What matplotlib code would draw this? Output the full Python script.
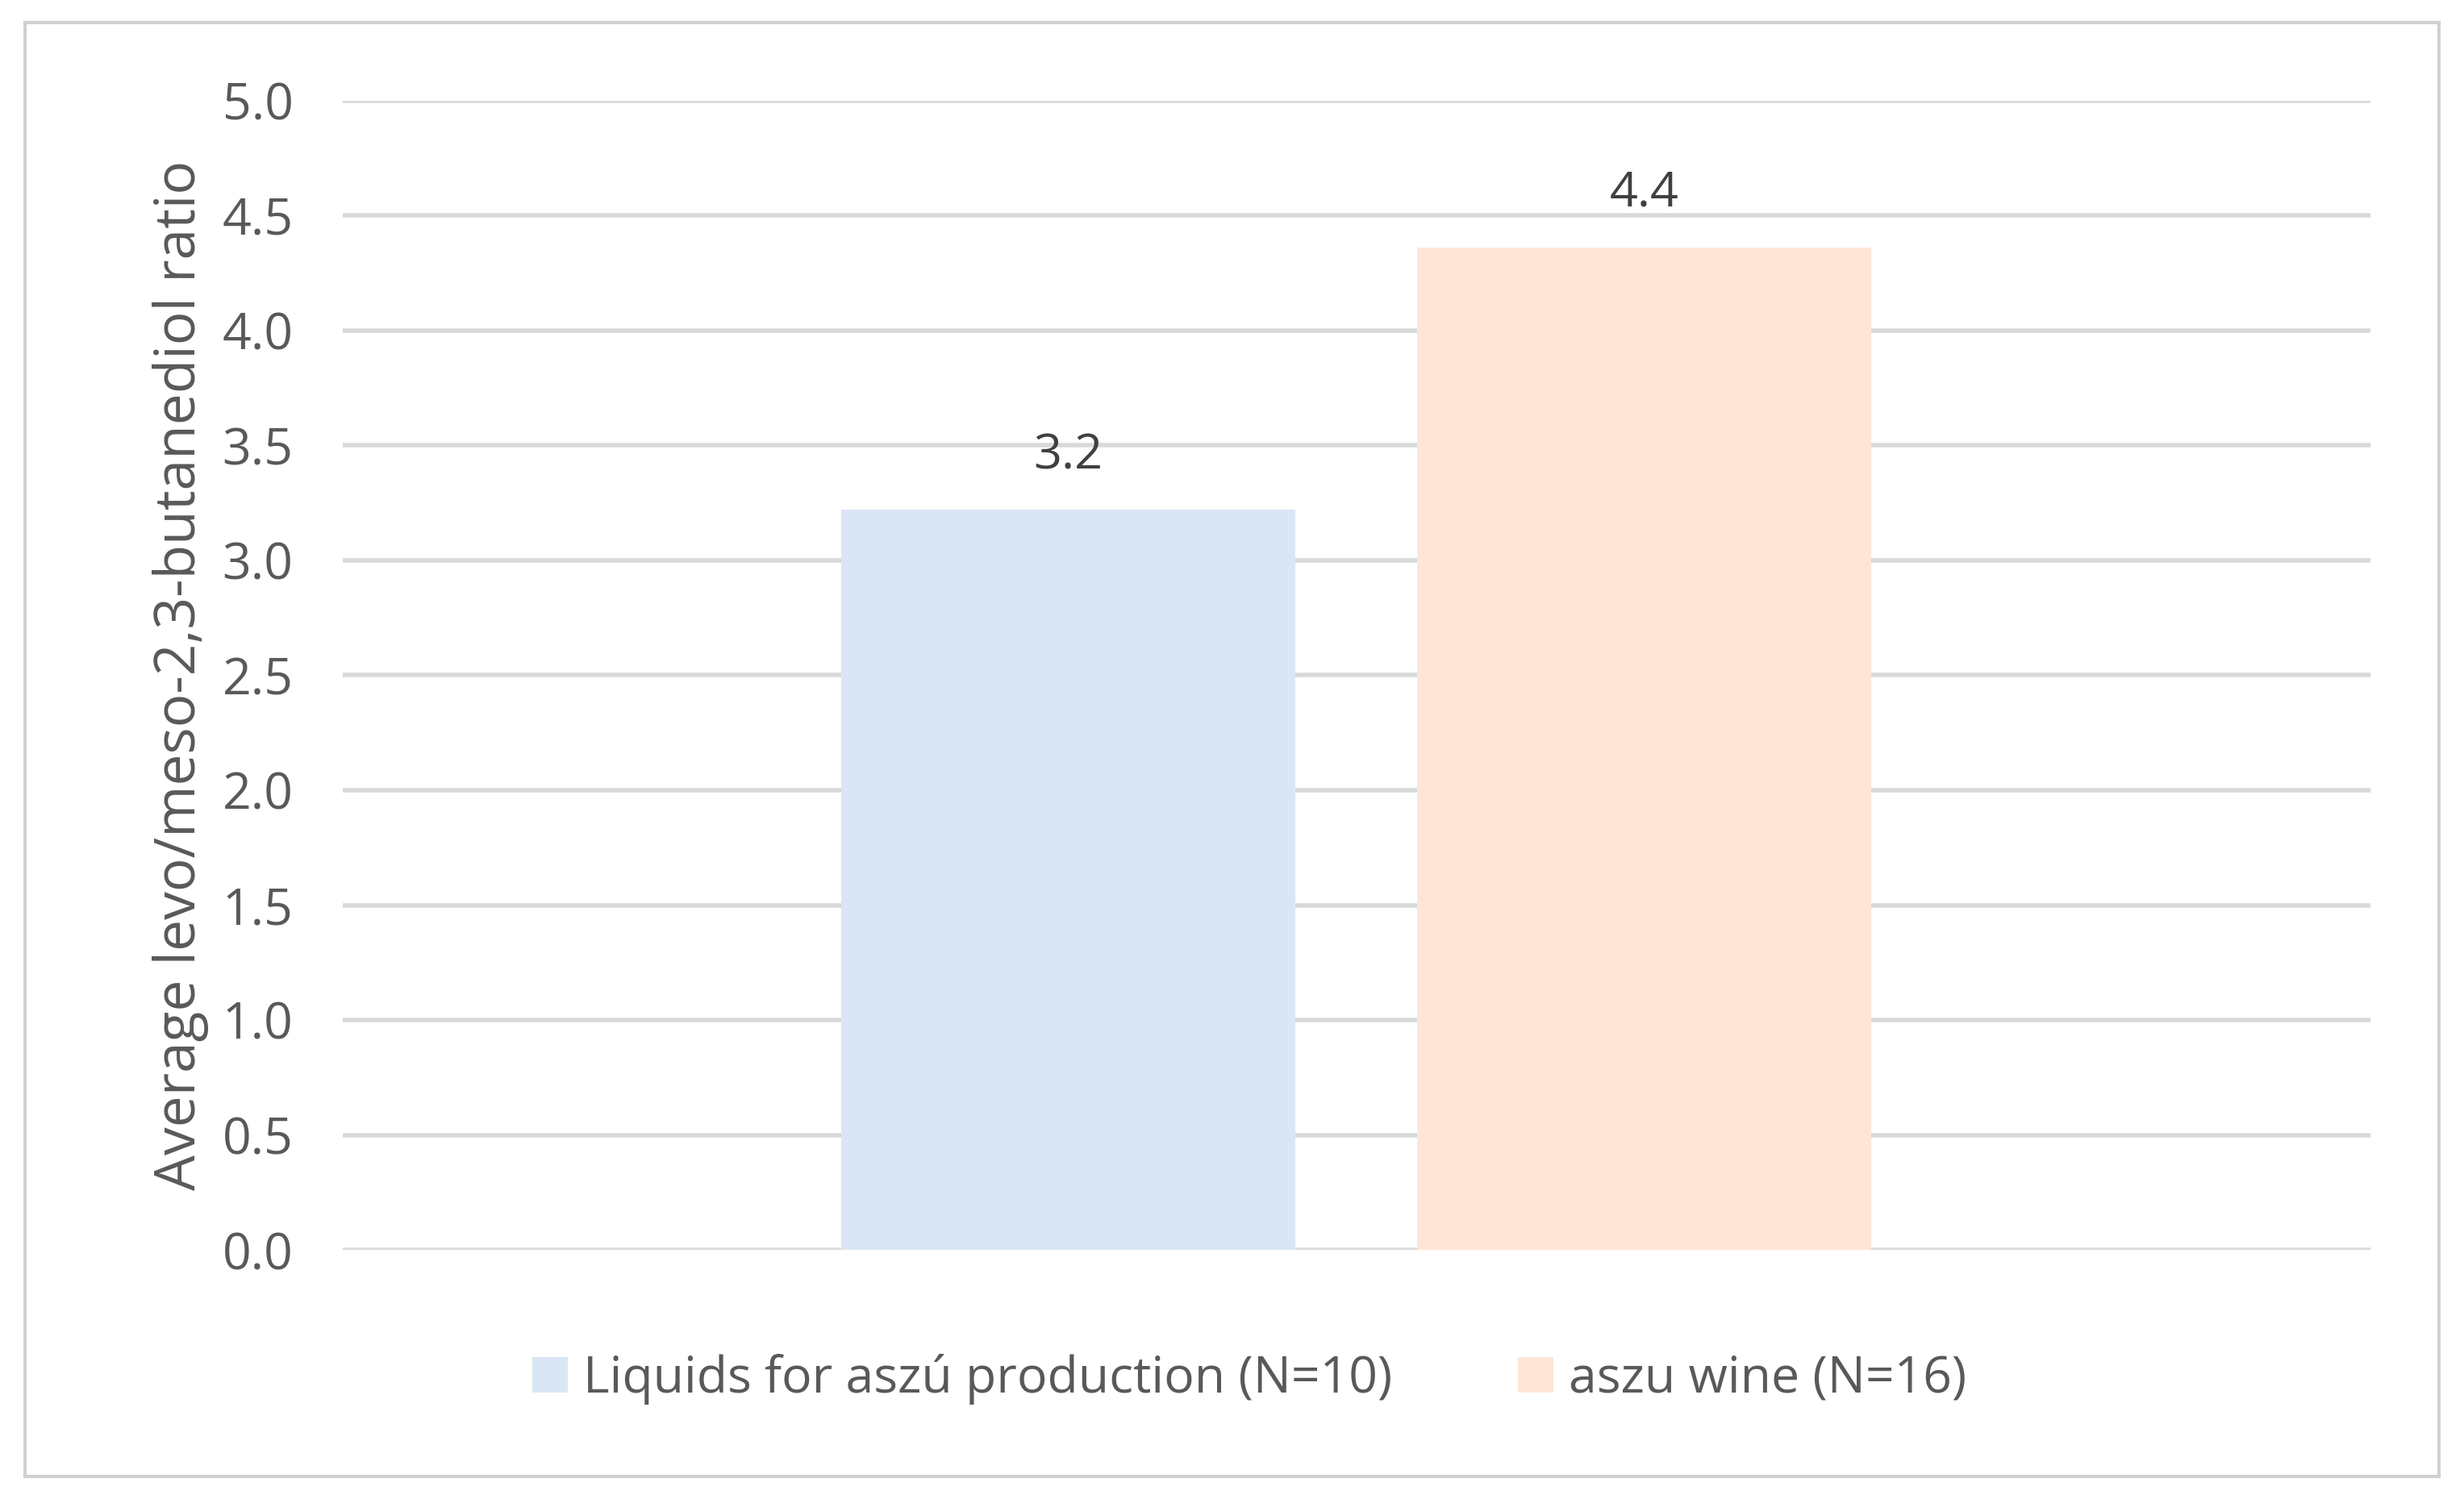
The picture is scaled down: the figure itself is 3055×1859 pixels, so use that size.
import matplotlib.pyplot as plt
from matplotlib.patches import Rectangle

series = ["Liquids for aszú production (N=10)", "aszu wine (N=16)"]
values = [3.22, 4.36]
labels = ["3.2", "4.4"]
colors = ["#DAE6F4", "#FEE6D6"]
yticks = [0.0, 0.5, 1.0, 1.5, 2.0, 2.5, 3.0, 3.5, 4.0, 4.5, 5.0]

plt.rcParams['font.family'] = ['Open Sans', 'DejaVu Sans']
fig = plt.figure(figsize=(15.275, 9.295), dpi=200)
fig.patches.append(Rectangle((0.01, 0.015), 0.98, 0.97, transform=fig.transFigure,
                             fill=False, edgecolor="#D0D0D0", linewidth=1.5))
ax = fig.add_axes([0.139, 0.166, 0.823, 0.767])

width = 0.224
offsets = [-0.142, 0.142]
for s, v, lab, c, off in zip(series, values, labels, colors, offsets):
    ax.bar(0.5 + off, v, width=width, color=c, label=s, zorder=2)
    ax.text(0.5 + off, v + 0.13, lab, ha="center", va="bottom",
            fontsize=22, color="#404040")

ax.set_xlim(0, 1)
ax.set_ylim(0, 5)
ax.set_yticks(yticks)
ax.set_yticklabels([f"{t:.1f}" for t in yticks], fontsize=22.5, color="#595959")
ax.set_xticks([])
ax.grid(axis="y", color="#D9D9D9", linewidth=2, zorder=0)
for sp in ax.spines.values():
    sp.set_visible(False)
ax.tick_params(axis="y", length=0, pad=22)
ax.set_ylabel("Average levo/meso-2,3-butanediol ratio", fontsize=25, color="#595959",
              labelpad=6)

fig.legend(loc="center", bbox_to_anchor=(0.507, 0.08), ncol=2, frameon=False,
           fontsize=22.5, labelcolor="#595959", handlelength=0.7, handleheight=0.7,
           handletextpad=0.3, columnspacing=2.5)
fig.savefig("out.png", dpi=200)
